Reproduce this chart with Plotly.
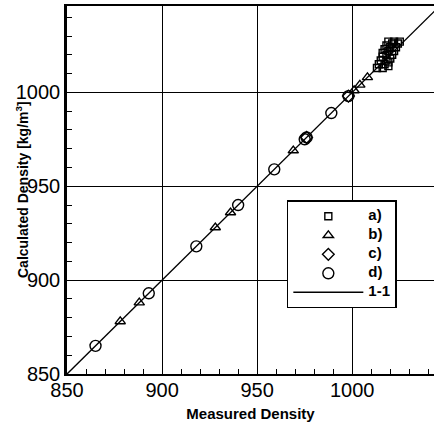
import plotly.graph_objects as go

# Series a) squares
a_x = [1013, 1016, 1019, 1014, 1017, 1019, 1015, 1018, 1020, 1016, 1018, 1021, 1016, 1019, 1022, 1017, 1020, 1023, 1018, 1021, 1024, 1019, 1022, 1025]
a_y = [1013, 1013, 1014, 1015, 1015, 1016, 1017, 1017, 1018, 1019, 1020, 1020, 1021, 1022, 1022, 1023, 1024, 1024, 1025, 1026, 1026, 1027, 1027, 1027]
# Series b) triangles
b_x = [878, 888, 928, 936, 969, 1001, 1004, 1008]
b_y = [878, 888, 928, 936, 969, 1001, 1004, 1008]
# Series c) diamonds
c_x = [976, 998]
c_y = [976, 998]
# Series d) circles
d_x = [865, 893, 918, 940, 959, 975, 976, 989, 998]
d_y = [865, 893, 918, 940, 959, 975, 976, 989, 998]
# 1-1 line
line_x = [850, 1050]
line_y = [850, 1050]

x_ticks = [850, 900, 950, 1000]
y_ticks = [850, 900, 950, 1000]

font_family = "Liberation Sans, Arial, sans-serif"


def lab(t):
    return "<span style='font-size:15px'><b>" + t + "</b></span>"


mline = dict(color="black", width=1.4)

fig = go.Figure()
fig.add_trace(go.Scatter(x=a_x, y=a_y, mode="markers", name=lab("a)"),
                         marker=dict(symbol="square-open", size=7, color="black", line=mline)))
fig.add_trace(go.Scatter(x=b_x, y=b_y, mode="markers", name=lab("b)"),
                         marker=dict(symbol="triangle-up-open", size=9, color="black", line=mline)))
fig.add_trace(go.Scatter(x=c_x, y=c_y, mode="markers", name=lab("c)"),
                         marker=dict(symbol="diamond-open", size=9, color="black", line=mline)))
fig.add_trace(go.Scatter(x=d_x, y=d_y, mode="markers", name=lab("d)"),
                         marker=dict(symbol="circle-open", size=11, color="black", line=mline)))
fig.add_trace(go.Scatter(x=line_x, y=line_y, mode="lines", name=lab("1-1"),
                         line=dict(color="black", width=1.4)))

fig.update_layout(
    width=434, height=424,
    margin=dict(l=67, r=0, t=6, b=50),
    paper_bgcolor="white", plot_bgcolor="white",
    font=dict(family=font_family, color="black"),
    showlegend=True,
    legend=dict(x=0.599, y=0.472, xanchor="left", yanchor="top",
                bgcolor="white", bordercolor="black", borderwidth=1.5,
                font=dict(size=10, family=font_family, color="black"),
                itemwidth=70, tracegroupgap=0),
    xaxis=dict(range=[850, 1043], tickvals=x_ticks, ticktext=[str(v) for v in x_ticks],
               showgrid=True, gridcolor="black", gridwidth=1.3,
               showline=True, linecolor="black", linewidth=2.2, mirror=True,
               ticks="inside", ticklen=5, tickcolor="black", tickwidth=1.3,
               minor=dict(dtick=10, tick0=850, ticks="inside", ticklen=5, tickcolor="black", tickwidth=1.3, showgrid=False),
               tickfont=dict(size=20, family=font_family),
               ticklabelstandoff=-3,
               zeroline=False,
               title=dict(text="<b>Measured Density</b>", font=dict(size=15, family=font_family), standoff=8)),
    yaxis=dict(range=[850, 1046], tickvals=y_ticks, ticktext=[str(v) for v in y_ticks],
               showgrid=True, gridcolor="black", gridwidth=1.3,
               showline=True, linecolor="black", linewidth=2.5, mirror=False,
               ticks="inside", ticklen=5, tickcolor="black", tickwidth=1.3,
               minor=dict(dtick=10, tick0=850, ticks="inside", ticklen=5, tickcolor="black", tickwidth=1.3, showgrid=False),
               tickfont=dict(size=20, family=font_family),
               zeroline=False),
    annotations=[dict(text="<b>Calculated Density [kg/m<sup>3</sup>]</b>", textangle=-90,
                      xref="paper", yref="paper", x=-0.1226, y=0.5,
                      xanchor="center", yanchor="middle", showarrow=False,
                      font=dict(size=14, family=font_family, color="black"))],
)

fig.write_html("out.html")
